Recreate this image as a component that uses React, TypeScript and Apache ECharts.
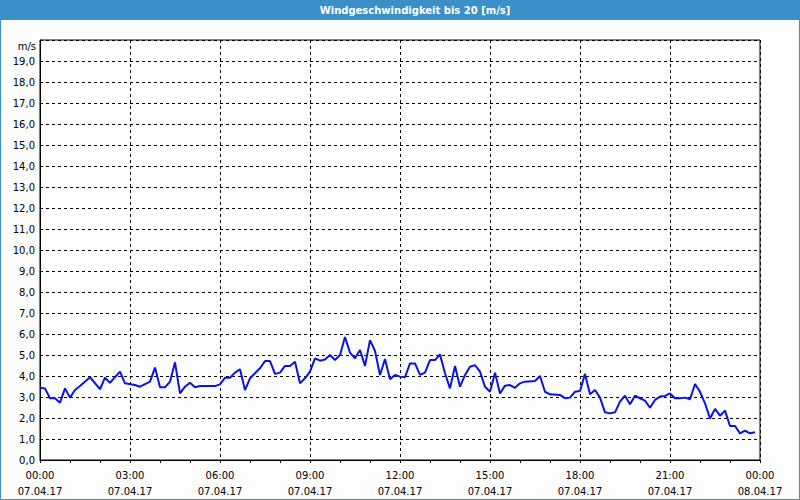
import React, { useEffect, useRef } from "react";
import * as echarts from "echarts";

const titleText = "Windgeschwindigkeit bis 20 [m/s]";
const unitLabel = "m/s";

// minutes since 07.04.17 00:00
const minutes = [
  0, 10, 20, 30, 40, 50, 60, 70, 80, 100, 120, 130, 140, 160, 170, 190, 200, 220, 230,
  240, 250, 260, 270, 280, 290, 300, 310, 320, 340, 350, 360, 370, 380, 390, 400, 410,
  420, 440, 450, 460, 470, 480, 490, 500, 510, 520, 530, 540, 550, 560, 570, 580, 590,
  600, 610, 620, 630, 640, 650, 660, 670, 680, 690, 700, 710, 720, 730, 740, 750, 760,
  770, 780, 790, 800, 810, 820, 830, 840, 850, 860, 870, 880, 890, 900, 910, 920, 930,
  940, 950, 960, 970, 990, 1000, 1010, 1020, 1040, 1050, 1060, 1070, 1080, 1090, 1100,
  1110, 1120, 1130, 1140, 1150, 1160, 1170, 1180, 1190, 1200, 1210, 1220, 1230, 1240,
  1250, 1260, 1270, 1280, 1290, 1300, 1310, 1320, 1330, 1340, 1350, 1360, 1370, 1380,
  1390, 1400, 1410, 1420, 1430,
];

const speeds = [
  3.44, 3.41, 2.94, 2.94, 2.73, 3.41, 2.97, 3.33, 3.52, 3.94, 3.37, 3.92, 3.68, 4.21, 3.65, 3.57, 3.49, 3.73, 4.4,
  3.46, 3.46, 3.73, 4.65, 3.17, 3.49, 3.68, 3.46, 3.52, 3.52, 3.52, 3.6, 3.92, 3.92, 4.16, 4.32, 3.33,
  3.89, 4.37, 4.71, 4.71, 4.1, 4.16, 4.48, 4.48, 4.68, 3.65, 3.89, 4.21, 4.84, 4.73, 4.79, 5.0, 4.76,
  5.0, 5.86, 5.11, 4.84, 5.24, 4.48, 5.71, 5.19, 4.05, 4.81, 3.84, 4.05, 3.97, 3.94, 4.6, 4.6, 4.05,
  4.16, 4.76, 4.76, 5.03, 4.13, 3.41, 4.48, 3.49, 4.05, 4.44, 4.52, 4.21, 3.49, 3.25, 4.16, 3.17, 3.54,
  3.57, 3.44, 3.65, 3.73, 3.76, 4.0, 3.25, 3.13, 3.1, 2.94, 2.97, 3.25, 3.29, 4.1, 3.13,
  3.33, 2.97, 2.27, 2.22, 2.27, 2.78, 3.06, 2.65, 3.06, 2.94, 2.83, 2.49, 2.86, 3.02,
  3.05, 3.17, 2.94, 2.94, 2.97, 2.89, 3.62, 3.25, 2.7, 1.98, 2.43, 2.11, 2.35, 1.62,
  1.62, 1.27, 1.4, 1.27, 1.32,
];

const xTickTimes = ["00:00", "03:00", "06:00", "09:00", "12:00", "15:00", "18:00", "21:00", "00:00"];
const xTickDates = ["07.04.17", "07.04.17", "07.04.17", "07.04.17", "07.04.17", "07.04.17", "07.04.17", "07.04.17", "08.04.17"];

const FONT = "DejaVu Sans";

export default function App() {
  const ref = useRef<HTMLDivElement>(null);
  useEffect(() => {
    if (!ref.current) return;
    const chart = echarts.init(ref.current, null, { renderer: "svg" });
    const data = minutes.map((m, i) => [m, speeds[i]]);
    chart.setOption({
      animation: false,
      backgroundColor: "#fcfdfc",
      textStyle: { fontFamily: FONT },
      grid: {
        left: 40,
        top: 40,
        width: 720,
        height: 420,
        show: true,
        borderColor: "#000",
        borderWidth: 1,
        backgroundColor: "transparent",
      },
      xAxis: {
        type: "value",
        min: 0,
        max: 1440,
        interval: 180,
        axisLine: { show: true, lineStyle: { color: "#000", width: 1 } },
        axisTick: { show: true, length: 3, lineStyle: { color: "#000" } },
        minorTick: { show: true, splitNumber: 3, length: 3, lineStyle: { color: "#000" } },
        splitLine: { show: true, lineStyle: { color: "#000", type: [3, 3], width: 1 } },
        axisLabel: {
          color: "#000",
          fontSize: 10,
          fontFamily: FONT,
          lineHeight: 16,
          margin: 7,
          formatter: (v: number) => {
            const i = Math.round(v / 180);
            return xTickTimes[i] + "\n" + xTickDates[i];
          },
        },
      },
      yAxis: {
        type: "value",
        min: 0,
        max: 20,
        interval: 1,
        axisLine: { show: true, lineStyle: { color: "#000", width: 1 } },
        axisTick: { show: false },
        splitLine: { show: true, lineStyle: { color: "#000", type: [3, 3], width: 1 } },
        axisLabel: {
          color: "#000",
          fontSize: 10,
          fontFamily: FONT,
          margin: 5,
          formatter: (v: number) => (v >= 20 ? "" : v.toFixed(1).replace(".", ",")),
        },
      },
      series: [
        {
          type: "line",
          data,
          showSymbol: false,
          symbol: "none",
          lineStyle: { color: "#0a14dc", width: 2 },
          z: 5,
        },
      ],
      graphic: [
        {
          type: "rect",
          shape: { x: 0, y: 0, width: 800, height: 20 },
          style: { fill: "#3d8fc7" },
          z: 10,
        },
        {
          type: "text",
          x: 415,
          y: 10,
          style: {
            text: titleText,
            fill: "#fff",
            font: "bold 10px " + FONT,
            textAlign: "center",
            textVerticalAlign: "middle",
          },
          z: 11,
        },
        {
          type: "text",
          x: 36,
          y: 46,
          style: {
            text: unitLabel,
            fill: "#000",
            font: "10px " + FONT,
            textAlign: "right",
            textVerticalAlign: "middle",
          },
        },
        {
          type: "rect",
          shape: { x: 0.5, y: 0.5, width: 799, height: 499 },
          style: { fill: "none", stroke: "#3d8fc7", lineWidth: 1 },
          z: 9,
        },
      ],
    });
    return () => chart.dispose();
  }, []);
  return (
    <div
      ref={ref}
      style={{ position: "absolute", left: 0, top: 0, width: 800, height: 500 }}
    />
  );
}
